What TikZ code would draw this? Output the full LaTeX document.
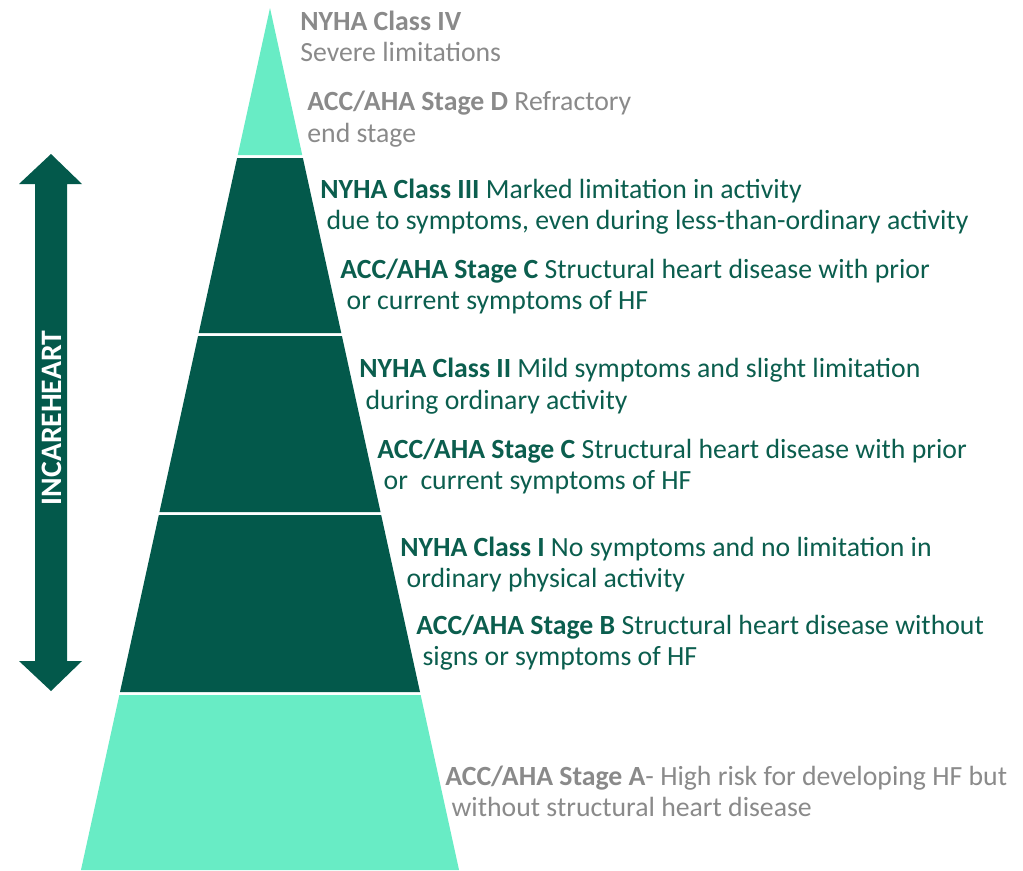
\documentclass[tikz,border=0pt]{standalone}
\usepackage{fontspec}
\setmainfont{Carlito}
\usepackage{xcolor}
\usepackage{tikz}
\usetikzlibrary{shapes,arrows,positioning}

\definecolor{mint}{HTML}{68ECC5}
\definecolor{pine}{HTML}{03594B}
\definecolor{pinetxt}{HTML}{0B5E4E}
\definecolor{greytxt}{HTML}{8A8A8A}

\begin{document}
\begin{tikzpicture}[x=0.02cm, y=-0.02cm]
    % Define styles
    \tikzstyle{stagetext} = [anchor=base west, inner sep=0pt, text=pinetxt, font=\fontsize{15.8}{19}\selectfont]
    \tikzstyle{greytext} = [stagetext, text=greytxt]
    \tikzstyle{spantext} = [rotate=90, inner sep=0pt, text=white, font=\fontsize{16.9}{20}\selectfont\bfseries]

    \useasboundingbox (0,0) rectangle (1023,870);

    % Pyramid bands
    \foreach \ya/\yb/\col in {8/155/mint, 158/333/pine, 336/512/pine, 515/692/pine, 695/870/mint}
        \fill[\col] ({270-(\ya-8)*0.2193},\ya) -- ({270+(\ya-8)*0.2193},\ya)
            -- ({270+(\yb-8)*0.2193},\yb) -- ({270-(\yb-8)*0.2193},\yb) -- cycle;

    % Double arrow
    \fill[pine] (51,154) -- (82,184) -- (67,184) -- (67,661) -- (82,661) -- (51,691)
        -- (19,661) -- (35,661) -- (35,184) -- (19,184) -- cycle;
    \node[spantext] (span) at (52,418) {INCAREHEART};

    % Nodes
    \node[greytext] (c4) at (300,30) {\textbf{NYHA Class IV}};
    \node[greytext] (c4b) at (300,61) {Severe limitations};
    \node[greytext] (sd) at (307,110) {\textbf{ACC/AHA Stage D} Refractory};
    \node[greytext] (sdb) at (307,142) {end stage};
    \node[stagetext] (c3) at (320,198) {\textbf{NYHA Class III} Marked limitation in activity};
    \node[stagetext] (c3b) at (320,229) {\ due to symptoms, even during less-than-ordinary activity};
    \node[stagetext] (sc) at (340,278) {\textbf{ACC/AHA Stage C} Structural heart disease with prior};
    \node[stagetext] (scb) at (340,309) {\ or current symptoms of HF};
    \node[stagetext] (c2) at (359,377) {\textbf{NYHA Class II} Mild symptoms and slight limitation};
    \node[stagetext] (c2b) at (359,409) {\ during ordinary activity};
    \node[stagetext] (sc2) at (377,458) {\textbf{ACC/AHA Stage C} Structural heart disease with prior};
    \node[stagetext] (sc2b) at (377,489) {\ or \ current symptoms of HF};
    \node[stagetext] (c1) at (400,556) {\textbf{NYHA Class I} No symptoms and no limitation in};
    \node[stagetext] (c1b) at (400,587) {\ ordinary physical activity};
    \node[stagetext] (sb) at (416,634) {\textbf{ACC/AHA Stage B} Structural heart disease without};
    \node[stagetext] (sbb) at (416,665) {\ signs or symptoms of HF};
    \node[greytext] (sa) at (445,785) {\textbf{ACC/AHA Stage A}- High risk for developing HF but};
    \node[greytext] (sab) at (445,816) {\ without structural heart disease};
\end{tikzpicture}
\end{document}
